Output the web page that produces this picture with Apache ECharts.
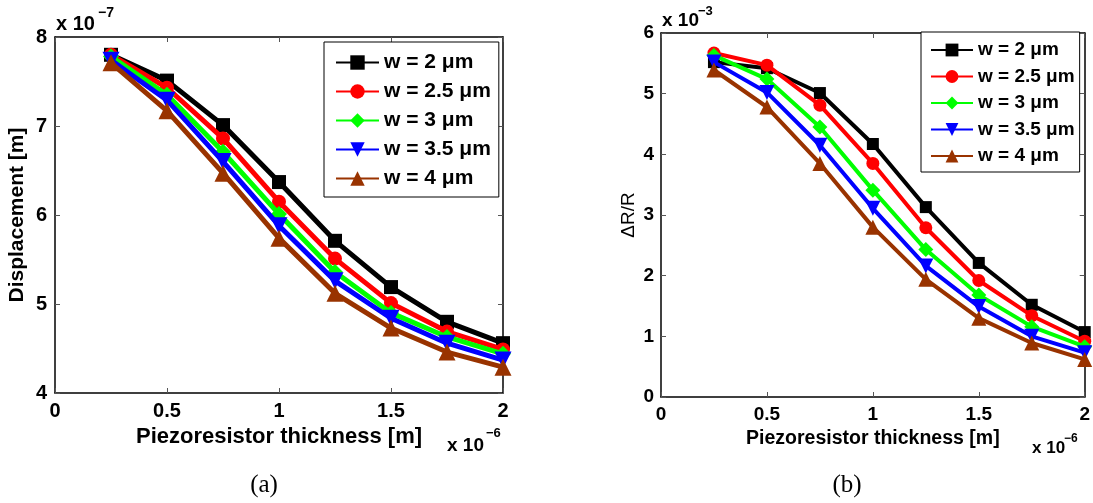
<!DOCTYPE html>
<html>
<head>
<meta charset="utf-8">
<script src="https://cdn.jsdelivr.net/npm/echarts@6/dist/echarts.min.js"></script>
<style>
html,body{margin:0;padding:0;background:#fff;}
#chart{width:1093px;height:503px;}
</style>
</head>
<body>
<div id="chart"></div>
<script>
// ---------- data ----------
const xValues = [0.25, 0.5, 0.75, 1.0, 1.25, 1.5, 1.75, 2.0]; // x 10^-6 m
const seriesNames = ['w = 2 μm', 'w = 2.5 μm', 'w = 3 μm', 'w = 3.5 μm', 'w = 4 μm'];
const xTicks = [0, 0.5, 1, 1.5, 2];
const dispTicks = [4, 5, 6, 7, 8];
const drrTicks = [0, 1, 2, 3, 4, 5, 6];

// (a) Displacement, x 10^-7 m
const dispW2   = [7.80, 7.51, 7.01, 6.37, 5.71, 5.19, 4.80, 4.56];
const dispW2_5 = [7.80, 7.43, 6.86, 6.15, 5.51, 5.01, 4.69, 4.49];
const dispW3   = [7.78, 7.35, 6.71, 6.01, 5.36, 4.90, 4.63, 4.44];
const dispW3_5 = [7.74, 7.29, 6.60, 5.88, 5.26, 4.84, 4.56, 4.37];
const dispW4   = [7.71, 7.17, 6.47, 5.74, 5.12, 4.73, 4.46, 4.29];

// (b) ΔR/R, x 10^-3
const drrW2   = [5.52, 5.42, 5.01, 4.17, 3.13, 2.21, 1.52, 1.07];
const drrW2_5 = [5.67, 5.47, 4.81, 3.85, 2.79, 1.92, 1.34, 0.92];
const drrW3   = [5.63, 5.24, 4.45, 3.41, 2.43, 1.68, 1.16, 0.83];
const drrW3_5 = [5.52, 5.02, 4.15, 3.11, 2.16, 1.49, 1.00, 0.73];
const drrW4   = [5.39, 4.78, 3.85, 2.80, 1.94, 1.30, 0.89, 0.62];

const dispData = [dispW2, dispW2_5, dispW3, dispW3_5, dispW4];
const drrData  = [drrW2, drrW2_5, drrW3, drrW3_5, drrW4];

// ---------- styles ----------
const colors  = ['#000000', '#ff0000', '#00ff00', '#0000ff', '#993300'];
const symbols = ['rect', 'circle', 'diamond', 'triangle', 'triangle'];
const rotates = [0, 0, 0, 180, 0];
const sizesA  = [14, 14, 16, 17, 17];
const sizesB  = [12, 13, 15, 15, 15];
const FONT = '"Liberation Sans", Arial, Helvetica, sans-serif';

function mainX(grid, fs, tfs, gap) {
  return {
    type: 'value', gridIndex: grid, min: 0, max: 2, interval: 0.5,
    name: 'Piezoresistor thickness [m]', nameLocation: 'middle', nameGap: gap,
    nameTextStyle: {fontFamily: FONT, fontWeight: 'bold', fontSize: tfs, color: '#000'},
    axisLine: {show: true, onZero: false, lineStyle: {color: '#000', width: 1.5}},
    axisTick: {show: true, inside: true, length: 5, lineStyle: {color: '#555'}},
    axisLabel: {fontFamily: FONT, fontWeight: 'bold', fontSize: fs, color: '#000', margin: 8,
      formatter: v => xTicks.includes(v) ? String(v) : ''},
    splitLine: {show: false}
  };
}
function mirrorX(grid) {
  return {
    type: 'value', gridIndex: grid, position: 'top', min: 0, max: 2, interval: 0.5,
    axisLine: {show: true, onZero: false, lineStyle: {color: '#000', width: 1.5}},
    axisTick: {show: true, inside: true, length: 5, lineStyle: {color: '#555'}},
    axisLabel: {show: false}, splitLine: {show: false}
  };
}
function mainY(grid, min, max, ticks, name, bold, fs, tfs, gap, margin) {
  return {
    type: 'value', gridIndex: grid, min: min, max: max, interval: 1,
    name: name, nameLocation: 'middle', nameGap: gap, nameRotate: 90,
    nameTextStyle: {fontFamily: FONT, fontWeight: bold ? 'bold' : 'normal', fontSize: tfs, color: '#000'},
    axisLine: {show: true, onZero: false, lineStyle: {color: '#000', width: 1.5}},
    axisTick: {show: true, inside: true, length: 5, lineStyle: {color: '#555'}},
    axisLabel: {fontFamily: FONT, fontWeight: 'bold', fontSize: fs, color: '#000', margin: margin,
      formatter: v => ticks.includes(v) ? String(v) : ''},
    splitLine: {show: false}
  };
}
function mirrorY(grid, min, max) {
  return {
    type: 'value', gridIndex: grid, position: 'right', min: min, max: max, interval: 1,
    axisLine: {show: true, onZero: false, lineStyle: {color: '#000', width: 1.5}},
    axisTick: {show: true, inside: true, length: 5, lineStyle: {color: '#555'}},
    axisLabel: {show: false}, splitLine: {show: false}
  };
}

const series = [];
dispData.forEach((vals, i) => {
  series.push({
    name: seriesNames[i], type: 'line', xAxisIndex: 0, yAxisIndex: 0,
    data: xValues.map((x, j) => [x, vals[j]]),
    symbol: symbols[i], symbolRotate: rotates[i], symbolSize: sizesA[i],
    lineStyle: {color: colors[i], width: 5}, itemStyle: {color: colors[i]},
    z: 3 + i
  });
});
drrData.forEach((vals, i) => {
  series.push({
    name: seriesNames[i], type: 'line', xAxisIndex: 1, yAxisIndex: 1,
    data: xValues.map((x, j) => [x, vals[j]]),
    symbol: symbols[i], symbolRotate: rotates[i], symbolSize: sizesB[i],
    lineStyle: {color: colors[i], width: 4}, itemStyle: {color: colors[i]},
    z: 3 + i
  });
});

function legend(left, top, fs, lh, ih, gap, pad, w) {
  return {
    data: seriesNames, orient: 'vertical', left: left, top: top,
    itemWidth: w, itemHeight: ih, itemGap: gap, padding: pad,
    backgroundColor: '#fff', borderColor: '#000', borderWidth: 1, borderRadius: 0,
    selectedMode: false,
    textStyle: {fontFamily: FONT, fontWeight: 'bold', fontSize: fs, lineHeight: lh, color: '#000'}
  };
}

function txt(x, y, s, fs, align) {
  return {type: 'text', x: x, y: y, style: {text: s, fontFamily: FONT, fontWeight: 'bold',
    fontSize: fs, fill: '#000', align: align || 'left', verticalAlign: 'middle'}};
}

const option = {
  animation: false,
  backgroundColor: '#fff',
  grid: [
    {left: 55, top: 37, width: 448, height: 356},
    {left: 661, top: 33, width: 424, height: 364}
  ],
  xAxis: [mainX(0, 20, 22, 28), mainX(1, 19, 19.5, 30), mirrorX(0), mirrorX(1)],
  yAxis: [
    mainY(0, 4, 8, dispTicks, 'Displacement [m]', true, 20, 21, 27, 8),
    mainY(1, 0, 6, drrTicks, 'ΔR/R', false, 19, 19, 23, 7),
    mirrorY(0, 4, 8), mirrorY(1, 0, 6)
  ],
  legend: [
    legend(324, 42, 21, 21, 18, 8, [10, 8, 8, 11], 43),
    legend(921, 32, 19, 20, 16, 6.5, [8, 5, 6, 9], 42)
  ],
  series: series,
  graphic: [
    txt(56, 24, 'x 10', 20),
    txt(98, 13, '−7', 14),
    txt(662, 21, 'x 10', 19),
    txt(698, 11, '−3', 13),
    txt(447, 446, 'x 10', 19),
    txt(486, 433, '−6', 13),
    txt(1032, 448, 'x 10', 17),
    txt(1064, 439, '−6', 12),
    {type: 'text', x: 264, y: 485, style: {text: '(a)', fontFamily: '"Liberation Serif", "DejaVu Serif", serif',
      fontSize: 25, fill: '#000', align: 'center', verticalAlign: 'middle'}},
    {type: 'text', x: 847, y: 485, style: {text: '(b)', fontFamily: '"Liberation Serif", "DejaVu Serif", serif',
      fontSize: 25, fill: '#000', align: 'center', verticalAlign: 'middle'}}
  ]
};

const chart = echarts.init(document.getElementById('chart'), null, {renderer: 'canvas'});
chart.setOption(option);
</script>
</body>
</html>
